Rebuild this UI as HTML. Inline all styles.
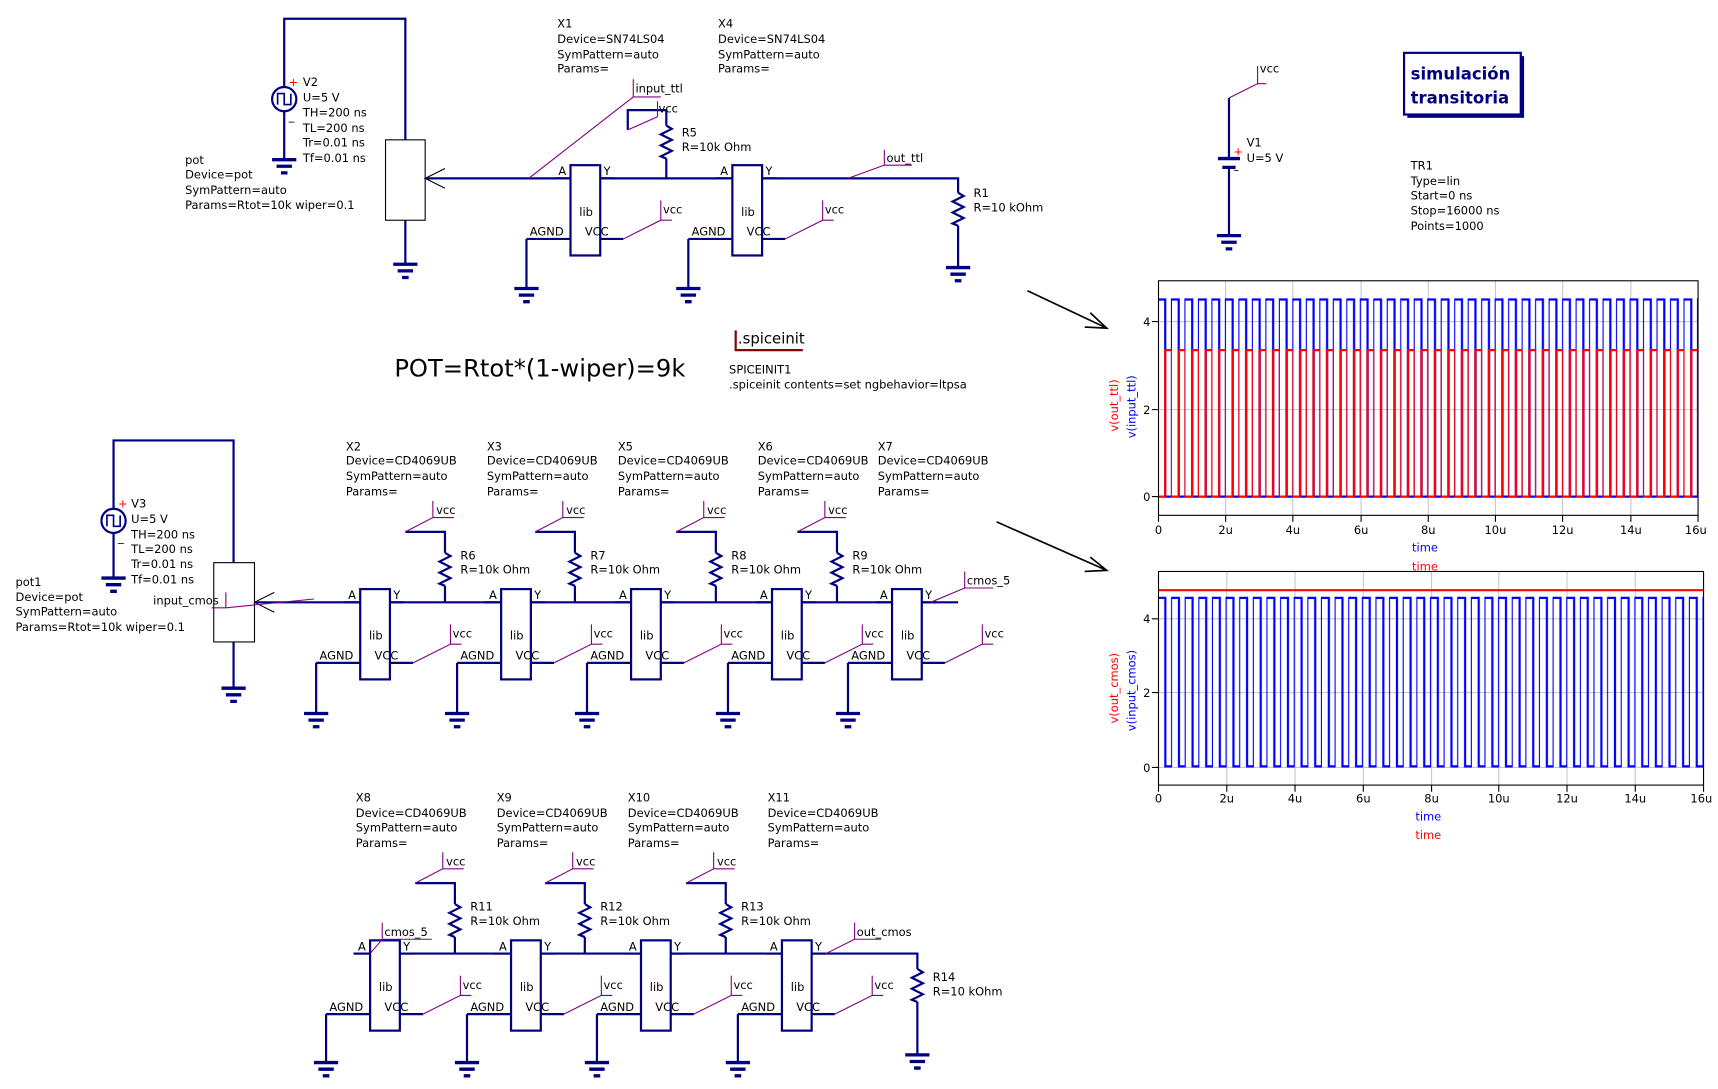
<!DOCTYPE html>
<html><head><meta charset="utf-8"><style>
html,body{margin:0;padding:0;background:#fff;width:1718px;height:1089px;overflow:hidden}
svg{display:block}
text{font-family:"DejaVu Sans","Liberation Sans",sans-serif;font-size:10.4px;fill:#000}
.w{stroke:#000080;stroke-width:2;fill:none}
.p{stroke:#800080;stroke-width:1;fill:none}
.g{stroke:#c8c8c8;stroke-width:1}
</style></head><body>
<svg width="1718" height="1089" viewBox="0 0 1560 989" xmlns="http://www.w3.org/2000/svg">
<defs>
<g id="gnd"><path d="M-11,0H11M-7,6H7M-3,12H3" stroke="#000080" stroke-width="3"/></g>
<g id="res"><path d="M0,0l5,3l-10,5l10,5l-10,5l10,5l-10,5l5,2" class="w"/></g>
<g id="inv">
<rect x="0" y="-12" width="27" height="82" fill="#fff" stroke="#000080" stroke-width="2"/>
<path class="w" d="M-15,0H0M27,0H40M0,55H-40M27,55H48"/>
<text x="-11" y="-3">A</text><text x="30" y="-3">Y</text><text x="8" y="34">lib</text>
<text x="-37" y="52">AGND</text><text x="13" y="52">VCC</text>
<path class="p" d="M48,55L82,38H92M82,38V20"/><text x="84" y="32">vcc</text>
</g>
<g id="src">
<circle r="11" fill="#fff" stroke="#000080" stroke-width="2"/>
<path d="M-6,5V-5H0V5H6V-5" stroke="#000080" stroke-width="1.5" fill="none"/>
<text x="4" y="-12" style="fill:#f00">+</text><text x="4" y="19">_</text>
</g>
<pattern id="pb1" patternUnits="userSpaceOnUse" x="1052" y="0" width="12.25" height="989"><path d="M-1,272H6.1V451H12.25V272H14" stroke="#00f" stroke-width="2" fill="none"/></pattern>
<pattern id="pr1" patternUnits="userSpaceOnUse" x="1052" y="0" width="12.25" height="989"><path d="M-1,451H6.1V318H12.25V451H14" stroke="#f00" stroke-width="2" fill="none"/></pattern>
<pattern id="pb2" patternUnits="userSpaceOnUse" x="1052" y="0" width="12.375" height="989"><path d="M-1,543H6.2V696H12.375V543H14" stroke="#00f" stroke-width="2" fill="none"/></pattern>
</defs>

<!-- TTL section -->
<path class="w" d="M258,79V17H368V127M258,101V145M368,200V240"/>
<use href="#src" x="258" y="90"/>
<use href="#gnd" x="258" y="145"/>
<text x="275" y="78">V2</text><text x="275" y="92">U=5 V</text><text x="275" y="106">TH=200 ns</text><text x="275" y="120">TL=200 ns</text><text x="275" y="133">Tr=0.01 ns</text><text x="275" y="147">Tf=0.01 ns</text>
<text x="168" y="149">pot</text><text x="168" y="162">Device=pot</text><text x="168" y="176">SymPattern=auto</text><text x="168" y="190">Params=Rtot=10k wiper=0.1</text>
<rect x="350" y="127" width="36" height="73" fill="#fff" stroke="#000" stroke-width="1"/>
<path d="M404,153L386,162L404,171" stroke="#000" fill="none"/>
<use href="#gnd" x="368" y="240"/>
<path class="w" d="M386,162H870V175M870,205V243M605,162V144M605,114V100H570V118"/>
<use href="#res" x="605" y="114"/>
<use href="#res" x="870" y="175"/>
<use href="#gnd" x="870" y="243"/>
<use href="#inv" x="518" y="162"/><use href="#inv" x="665" y="162"/>
<path class="w" d="M478,217V262M625,217V262"/>
<use href="#gnd" x="478" y="262"/><use href="#gnd" x="625" y="262"/>
<path class="p" d="M480,162L575,88H600M575,88V72M570,118L597,106M770,162L803,150H828M803,150V136"/>
<path class="p" d="M597,106V92"/>
<text x="577" y="84">input_ttl</text><text x="598" y="102">vcc</text><text x="805" y="147">out_ttl</text>
<text x="619" y="124">R5</text><text x="619" y="137">R=10k Ohm</text>
<text x="884" y="179">R1</text><text x="884" y="192">R=10 kOhm</text>
<text x="506" y="25">X1</text><text x="506" y="39">Device=SN74LS04</text><text x="506" y="53">SymPattern=auto</text><text x="506" y="66">Params=</text>
<text x="652" y="25">X4</text><text x="652" y="39">Device=SN74LS04</text><text x="652" y="53">SymPattern=auto</text><text x="652" y="66">Params=</text>

<text x="358" y="342" style="font-size:22px">POT=Rtot*(1-wiper)=9k</text>
<path d="M668,300V318H729" stroke="#8b0000" stroke-width="2" fill="none"/>
<text x="670" y="312" style="font-size:13.5px">.spiceinit</text>
<text x="662" y="339">SPICEINIT1</text><text x="662" y="353">.spiceinit contents=set ngbehavior=ltpsa</text>

<!-- CMOS section 1 -->
<path class="w" d="M103,462V400H212V511M103,484V525M212,583V625"/>
<use href="#src" x="103" y="473"/>
<use href="#gnd" x="103" y="525"/>
<text x="119" y="461">V3</text><text x="119" y="475">U=5 V</text><text x="119" y="489">TH=200 ns</text><text x="119" y="502">TL=200 ns</text><text x="119" y="516">Tr=0.01 ns</text><text x="119" y="530">Tf=0.01 ns</text>
<text x="14" y="532">pot1</text><text x="14" y="546">Device=pot</text><text x="14" y="559">SymPattern=auto</text><text x="14" y="573">Params=Rtot=10k wiper=0.1</text>
<rect x="194" y="511" width="37" height="72" fill="#fff" stroke="#000"/>
<path d="M249,538L231,547L249,556" stroke="#000" fill="none"/>
<use href="#gnd" x="212" y="625"/>
<path class="w" d="M231,547H870"/>
<path class="p" d="M192,552H205L285,544M205,552V538"/>
<text x="139" y="549">input_cmos</text>
<g>
<use href="#inv" x="327" y="547"/><use href="#inv" x="455" y="547"/><use href="#inv" x="573" y="547"/><use href="#inv" x="701" y="547"/><use href="#inv" x="810" y="547"/>
<path class="w" d="M287,602V648M415,602V648M533,602V648M661,602V648M770,602V648"/>
<use href="#gnd" x="287" y="648"/><use href="#gnd" x="415" y="648"/><use href="#gnd" x="533" y="648"/><use href="#gnd" x="661" y="648"/><use href="#gnd" x="770" y="648"/>
</g>
<path class="w" d="M404,547V532M404,502V483H368M522,547V532M522,502V483H486M650,547V532M650,502V483H614M760,547V532M760,502V483H724"/>
<use href="#res" x="404" y="502"/><use href="#res" x="522" y="502"/><use href="#res" x="650" y="502"/><use href="#res" x="760" y="502"/>
<path class="p" d="M368,483L393,470H412M393,470V455M486,483L511,470H530M511,470V455M614,483L639,470H658M639,470V455M724,483L749,470H768M749,470V455"/>
<text x="396" y="467">vcc</text><text x="514" y="467">vcc</text><text x="642" y="467">vcc</text><text x="752" y="467">vcc</text>
<text x="418" y="508">R6</text><text x="418" y="521">R=10k Ohm</text>
<text x="536" y="508">R7</text><text x="536" y="521">R=10k Ohm</text>
<text x="664" y="508">R8</text><text x="664" y="521">R=10k Ohm</text>
<text x="774" y="508">R9</text><text x="774" y="521">R=10k Ohm</text>
<path class="p" d="M845,547L876,534H902M876,534V519"/><text x="878" y="531">cmos_5</text>
<text x="314" y="409">X2</text><text x="314" y="422">Device=CD4069UB</text><text x="314" y="436">SymPattern=auto</text><text x="314" y="450">Params=</text>
<text x="442" y="409">X3</text><text x="442" y="422">Device=CD4069UB</text><text x="442" y="436">SymPattern=auto</text><text x="442" y="450">Params=</text>
<text x="561" y="409">X5</text><text x="561" y="422">Device=CD4069UB</text><text x="561" y="436">SymPattern=auto</text><text x="561" y="450">Params=</text>
<text x="688" y="409">X6</text><text x="688" y="422">Device=CD4069UB</text><text x="688" y="436">SymPattern=auto</text><text x="688" y="450">Params=</text>
<text x="797" y="409">X7</text><text x="797" y="422">Device=CD4069UB</text><text x="797" y="436">SymPattern=auto</text><text x="797" y="450">Params=</text>

<!-- CMOS section 2 -->
<path class="w" d="M321,866H833V880M833,910V958"/>
<use href="#res" x="833" y="880"/><use href="#gnd" x="833" y="958"/>
<use href="#inv" x="336" y="866"/><use href="#inv" x="464" y="866"/><use href="#inv" x="582" y="866"/><use href="#inv" x="710" y="866"/>
<path class="w" d="M296,921V965M424,921V965M542,921V965M670,921V965"/>
<use href="#gnd" x="296" y="965"/><use href="#gnd" x="424" y="965"/><use href="#gnd" x="542" y="965"/><use href="#gnd" x="670" y="965"/>
<path class="w" d="M413,866V851M413,821V802H377M531,866V851M531,821V802H495M659,866V851M659,821V802H623"/>
<use href="#res" x="413" y="821"/><use href="#res" x="531" y="821"/><use href="#res" x="659" y="821"/>
<path class="p" d="M377,802L402,789H421M402,789V774M495,802L520,789H539M520,789V774M623,802L648,789H667M648,789V774"/>
<text x="405" y="786">vcc</text><text x="523" y="786">vcc</text><text x="651" y="786">vcc</text>
<text x="427" y="827">R11</text><text x="427" y="840">R=10k Ohm</text>
<text x="545" y="827">R12</text><text x="545" y="840">R=10k Ohm</text>
<text x="673" y="827">R13</text><text x="673" y="840">R=10k Ohm</text>
<text x="847" y="891">R14</text><text x="847" y="904">R=10 kOhm</text>
<path class="p" d="M336,866L347,853H392M347,853V838M750,866L776,853H800M776,853V838"/>
<text x="349" y="850">cmos_5</text><text x="778" y="850">out_cmos</text>
<text x="323" y="728">X8</text><text x="323" y="742">Device=CD4069UB</text><text x="323" y="755">SymPattern=auto</text><text x="323" y="769">Params=</text>
<text x="451" y="728">X9</text><text x="451" y="742">Device=CD4069UB</text><text x="451" y="755">SymPattern=auto</text><text x="451" y="769">Params=</text>
<text x="570" y="728">X10</text><text x="570" y="742">Device=CD4069UB</text><text x="570" y="755">SymPattern=auto</text><text x="570" y="769">Params=</text>
<text x="697" y="728">X11</text><text x="697" y="742">Device=CD4069UB</text><text x="697" y="755">SymPattern=auto</text><text x="697" y="769">Params=</text>

<!-- V1 / box / TR1 -->
<path class="w" d="M1116,89V143M1116,153V213"/>
<path d="M1106,144H1126M1110,152H1122" stroke="#000080" stroke-width="3"/>
<use href="#gnd" x="1116" y="214"/>
<path class="p" d="M1116,89L1142,76H1150M1142,76V60"/><text x="1144" y="66">vcc</text>
<text x="1132" y="133">V1</text><text x="1132" y="147">U=5 V</text>
<text x="1120" y="141" style="fill:#f00">+</text><text x="1120" y="158">–</text>
<rect x="1278" y="51" width="106" height="56" fill="#000080"/>
<rect x="1275" y="48" width="106" height="56" fill="#fff" stroke="#000080" stroke-width="2"/>
<text x="1281" y="72" style="font-size:15px;font-weight:bold;fill:#000080">simulación</text>
<text x="1281" y="94" style="font-size:15px;font-weight:bold;fill:#000080">transitoria</text>
<text x="1281" y="154">TR1</text><text x="1281" y="168">Type=lin</text><text x="1281" y="181">Start=0 ns</text><text x="1281" y="195">Stop=16000 ns</text><text x="1281" y="209">Points=1000</text>

<!-- arrows -->
<path d="M933,264L1005,298M990,284L1005,298L985,297M905,474L1005,518M990,506L1005,518L985,519" stroke="#000" stroke-width="1.5" fill="none"/>

<!-- Plot 1 -->
<g>
<path class="g" d="M1113,255V468M1174,255V468M1236,255V468M1297,255V468M1358,255V468M1419,255V468M1481,255V468M1052,292H1542M1052,372H1542M1052,451H1542"/>
<rect x="1052" y="262" width="490" height="196" fill="url(#pb1)"/>
<rect x="1052" y="262" width="490" height="196" fill="url(#pr1)"/>
<rect x="1052" y="255" width="490" height="213" fill="none" stroke="#000"/>
<path d="M1052,468V474M1113,468V474M1174,468V474M1236,468V474M1297,468V474M1358,468V474M1419,468V474M1481,468V474M1542,468V474M1046,292H1052M1046,372H1052M1046,451H1052" stroke="#000"/>
<g text-anchor="middle"><text x="1052" y="485">0</text><text x="1113" y="485">2u</text><text x="1174" y="485">4u</text><text x="1236" y="485">6u</text><text x="1297" y="485">8u</text><text x="1358" y="485">10u</text><text x="1419" y="485">12u</text><text x="1481" y="485">14u</text><text x="1540" y="485">16u</text>
<text x="1294" y="501" style="fill:#00f">time</text><text x="1294" y="518" style="fill:#f00">time</text></g>
<text x="1038" y="296">4</text><text x="1038" y="376">2</text><text x="1038" y="455">0</text>
<text transform="translate(1015,392) rotate(-90)" style="fill:#f00">v(out_ttl)</text>
<text transform="translate(1031,398) rotate(-90)" style="fill:#00f">v(input_ttl)</text>
</g>

<!-- Plot 2 -->
<g>
<path class="g" d="M1114,519V713M1176,519V713M1238,519V713M1300,519V713M1361,519V713M1423,519V713M1485,519V713M1052,562H1547M1052,629H1547M1052,697H1547"/>
<rect x="1052" y="530" width="495" height="175" fill="url(#pb2)"/>
<path d="M1052,536H1547" stroke="#f00" stroke-width="2"/>
<rect x="1052" y="519" width="495" height="194" fill="none" stroke="#000"/>
<path d="M1052,713V719M1114,713V719M1176,713V719M1238,713V719M1300,713V719M1361,713V719M1423,713V719M1485,713V719M1547,713V719M1046,562H1052M1046,629H1052M1046,697H1052" stroke="#000"/>
<g text-anchor="middle"><text x="1052" y="729">0</text><text x="1114" y="729">2u</text><text x="1176" y="729">4u</text><text x="1238" y="729">6u</text><text x="1300" y="729">8u</text><text x="1361" y="729">10u</text><text x="1423" y="729">12u</text><text x="1485" y="729">14u</text><text x="1545" y="729">16u</text>
<text x="1297" y="745" style="fill:#00f">time</text><text x="1297" y="762" style="fill:#f00">time</text></g>
<text x="1038" y="566">4</text><text x="1038" y="633">2</text><text x="1038" y="701">0</text>
<text transform="translate(1015,657) rotate(-90)" style="fill:#f00">v(out_cmos)</text>
<text transform="translate(1031,664) rotate(-90)" style="fill:#00f">v(input_cmos)</text>
</g>
</svg>
</body></html>
